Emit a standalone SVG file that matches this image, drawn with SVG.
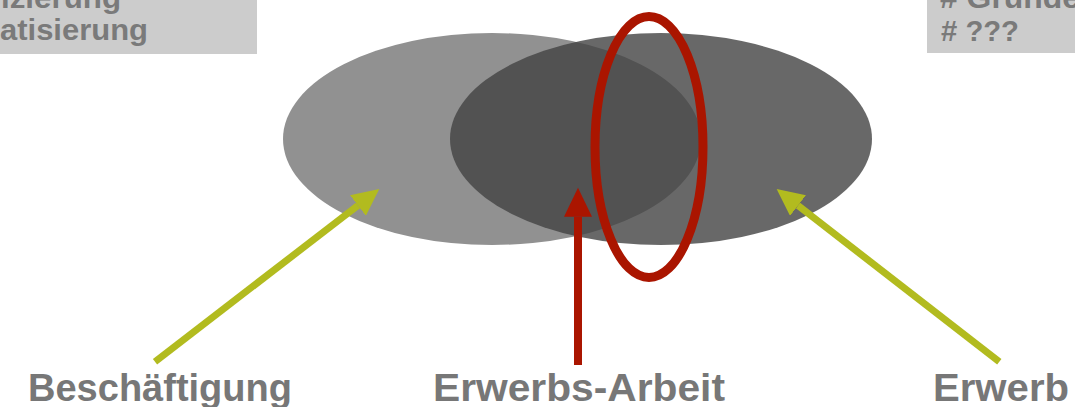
<svg xmlns="http://www.w3.org/2000/svg" width="1075" height="407" viewBox="0 0 1075 407">
  <style>
    .box { fill: #cccccc; }
    .boxtext { font-family: "Liberation Sans", Arial, sans-serif; font-weight: bold; font-size: 29px; fill: #7a7a7a; }
    .label { font-family: "Liberation Sans", Arial, sans-serif; font-weight: bold; font-size: 38px; fill: #777777; }
    .green { stroke: #b2bb1f; stroke-width: 7; fill: none; }
    .red { stroke: #aa1500; stroke-width: 8; fill: none; }
  </style>
  <defs>
    <marker id="headGreen" markerUnits="userSpaceOnUse" markerWidth="28" markerHeight="26" refX="0" refY="13" orient="auto" viewBox="0 0 28 26">
      <path d="M0,0 L27,13 L0,26 z" fill="#b2bb1f"/>
    </marker>
    <marker id="headRed" markerUnits="userSpaceOnUse" markerWidth="30" markerHeight="28" refX="0" refY="14" orient="auto" viewBox="0 0 30 28">
      <path d="M0,0 L29,14 L0,28 z" fill="#aa1500"/>
    </marker>
  </defs>

  <g id="box-left">
    <rect class="box" x="0" y="0" width="257" height="54"/>
    <text class="boxtext" x="1" y="8" textLength="120" lengthAdjust="spacingAndGlyphs">izierung</text>
    <text class="boxtext" x="0" y="40" textLength="148" lengthAdjust="spacingAndGlyphs">atisierung</text>
  </g>

  <g id="box-right">
    <rect class="box" x="927" y="0" width="148" height="53"/>
    <text class="boxtext" x="940" y="8" textLength="140" lengthAdjust="spacingAndGlyphs"># Grunde</text>
    <text class="boxtext" x="941" y="41" textLength="78" lengthAdjust="spacingAndGlyphs"># ???</text>
  </g>

  <g id="ellipse-beschaeftigung">
    <ellipse cx="492" cy="139" rx="209" ry="106" fill="#919191"/>
  </g>
  <g id="ellipse-erwerb">
    <ellipse cx="661" cy="139" rx="211" ry="106" fill="#424242" fill-opacity="0.8"/>
  </g>
  <g id="ellipse-highlight">
    <ellipse cx="649" cy="147" rx="54" ry="130.5" fill="none" stroke="#aa1500" stroke-width="9"/>
  </g>

  <g id="connectors">
    <line class="green" x1="155" y1="361.7" x2="357.9" y2="205.5" marker-end="url(#headGreen)"/>
    <line class="red" x1="578" y1="365" x2="578" y2="216.7" marker-end="url(#headRed)"/>
    <line class="green" x1="999.3" y1="361.7" x2="798" y2="205.6" marker-end="url(#headGreen)"/>
  </g>

  <g id="label-beschaeftigung">
    <text class="label" x="28" y="401" textLength="264" lengthAdjust="spacingAndGlyphs">Beschäftigung</text>
  </g>
  <g id="label-erwerbsarbeit">
    <text class="label" x="433" y="401" textLength="292" lengthAdjust="spacingAndGlyphs">Erwerbs-Arbeit</text>
  </g>
  <g id="label-erwerb">
    <text class="label" x="933" y="401" textLength="136" lengthAdjust="spacingAndGlyphs">Erwerb</text>
  </g>
</svg>
